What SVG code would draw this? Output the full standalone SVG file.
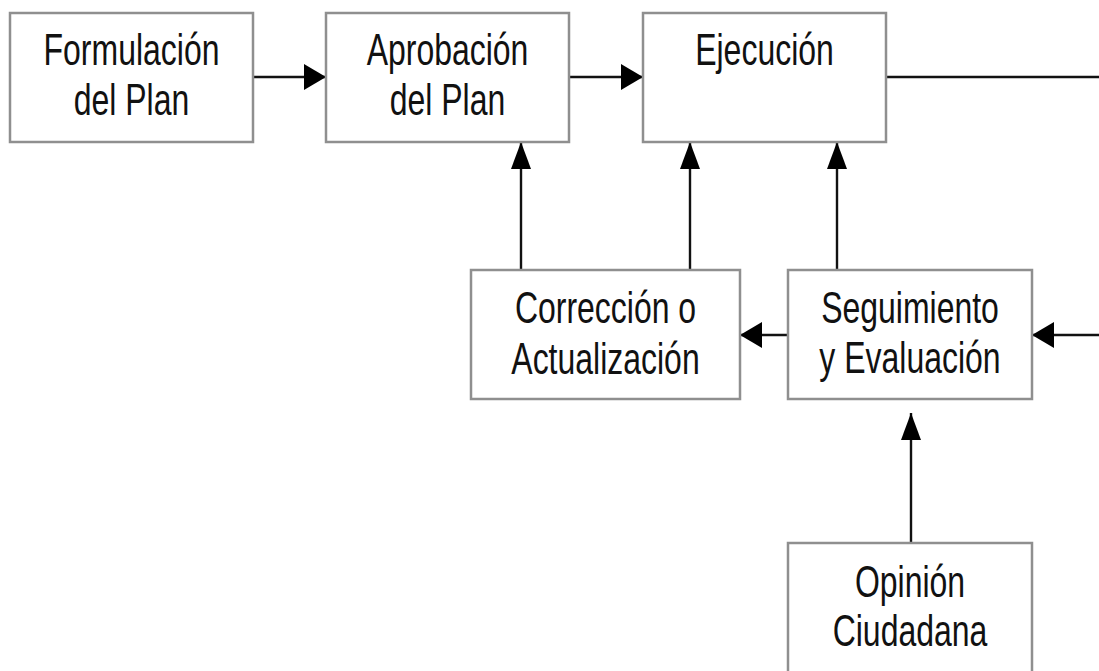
<svg xmlns="http://www.w3.org/2000/svg" width="1099" height="671" viewBox="0 0 1099 671">
<style>
.box{fill:#fff;stroke:#8f8f8f;stroke-width:2.5}
.lbl{font-family:"Liberation Sans",Arial,sans-serif;font-size:41px;fill:#111;text-anchor:middle}
.ln{fill:none;stroke:#111;stroke-width:2.4}
</style>
<defs>
<marker id="ah" markerUnits="userSpaceOnUse" markerWidth="22" markerHeight="26" refX="22" refY="13" orient="auto">
<path d="M0,0 L22,13 L0,26 Z" fill="#000"/>
</marker>
<marker id="av" markerUnits="userSpaceOnUse" markerWidth="27" markerHeight="20" refX="27" refY="10" orient="auto">
<path d="M0,0 L27,10 L0,20 Z" fill="#000"/>
</marker>
</defs>
<rect width="1099" height="671" fill="#fff"/>
<g id="connectors">
<path class="ln" d="M253,77 H326" marker-end="url(#ah)"/>
<path class="ln" d="M569,77 H643" marker-end="url(#ah)"/>
<path class="ln" d="M886,77 H1099"/>
<path class="ln" d="M521,270 V142" marker-end="url(#av)"/>
<path class="ln" d="M690,270 V142" marker-end="url(#av)"/>
<path class="ln" d="M837,270 V142" marker-end="url(#av)"/>
<path class="ln" d="M788,335 H740" marker-end="url(#ah)"/>
<path class="ln" d="M1099,335 H1032" marker-end="url(#ah)"/>
<path class="ln" d="M911,543 V413" marker-end="url(#av)"/>
</g>
<g id="formulacion">
<rect class="box" x="10" y="13" width="243" height="129"/>
<text class="lbl" transform="translate(131.5,65) scale(0.78,1.08)">Formulación</text>
<text class="lbl" transform="translate(131.5,115) scale(0.78,1.08)">del Plan</text>
</g>
<g id="aprobacion">
<rect class="box" x="326" y="13" width="243" height="129"/>
<text class="lbl" transform="translate(447.5,65) scale(0.78,1.08)">Aprobación</text>
<text class="lbl" transform="translate(447.5,115) scale(0.78,1.08)">del Plan</text>
</g>
<g id="ejecucion">
<rect class="box" x="643" y="13" width="243" height="129"/>
<text class="lbl" transform="translate(764.5,65) scale(0.78,1.08)">Ejecución</text>
</g>
<g id="correccion">
<rect class="box" x="471" y="270" width="269" height="129"/>
<text class="lbl" transform="translate(605.5,323) scale(0.78,1.08)">Corrección o</text>
<text class="lbl" transform="translate(605.5,374) scale(0.78,1.08)">Actualización</text>
</g>
<g id="seguimiento">
<rect class="box" x="788" y="270" width="244" height="129"/>
<text class="lbl" transform="translate(910,323) scale(0.78,1.08)">Seguimiento</text>
<text class="lbl" transform="translate(910,373) scale(0.78,1.08)">y Evaluación</text>
</g>
<g id="opinion">
<rect class="box" x="788" y="543" width="244" height="140"/>
<text class="lbl" transform="translate(910,597) scale(0.78,1.08)">Opinión</text>
<text class="lbl" transform="translate(910,646) scale(0.78,1.08)">Ciudadana</text>
</g>
</svg>
